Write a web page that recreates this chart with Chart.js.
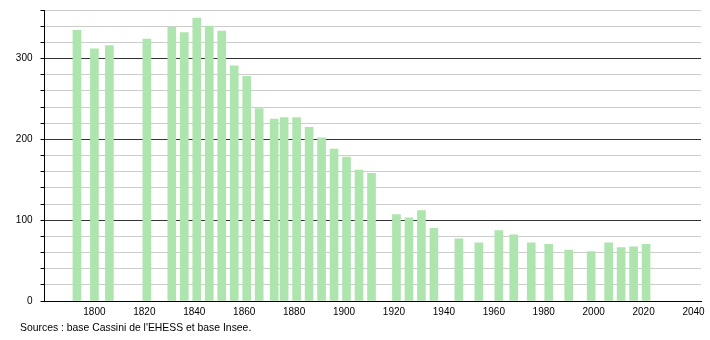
<!DOCTYPE html>
<html>
<head>
<meta charset="utf-8">
<script src="https://cdn.jsdelivr.net/npm/chart.js@4/dist/chart.umd.min.js"></script>
<style>
  body { margin: 0; background: #fff; }
  #wrap { position: relative; width: 710px; height: 340px; }
  #sources { position: absolute; left: 20px; top: 322px; font: 10.4px "Liberation Sans", Arial, sans-serif; color: #000; }
</style>
</head>
<body>
<div id="wrap">
  <canvas id="pop_chart" width="710" height="340"></canvas>
  <div id="sources">Sources : base Cassini de l'EHESS et base Insee.</div>
</div>
<script>
// 인구 데이터 (연도, 인구)
var years = [1793, 1800, 1806, 1821, 1831, 1836, 1841, 1846, 1851, 1856, 1861, 1866, 1872, 1876, 1881, 1886, 1891, 1896, 1901, 1906, 1911,
             1921, 1926, 1931, 1936, 1946, 1954, 1962, 1968, 1975, 1982, 1990, 1999, 2006, 2011, 2016, 2021];
var population = [335, 312, 316, 324, 339, 332, 350, 340, 334, 291, 278, 238, 225, 227, 227, 215, 202, 188, 178, 162, 158,
                  107, 103, 112, 90, 77, 72, 87, 82, 72, 70, 63, 61, 72, 66, 67, 70];
var xTickYears = [1800, 1820, 1840, 1860, 1880, 1900, 1920, 1940, 1960, 1980, 2000, 2020, 2040];

var points = years.map(function (y, i) { return { x: y, y: population[i] }; });

new Chart(document.getElementById("pop_chart"), {
    type: 'bar',
    data: {
        datasets: [{
            data: points,
            backgroundColor: "rgb(174, 228, 174)",
            borderWidth: 0,
            barThickness: 8
        }]
    },
    options: {
        responsive: false,
        animation: false,
        layout: { padding: { top: 10, right: 9, bottom: 19, left: 0 } },
        plugins: { legend: { display: false }, tooltip: { enabled: false } },
        scales: {
            x: {
                type: 'linear',
                offset: false,
                min: 1780,
                max: 2043,
                afterBuildTicks: function (scale) {
                    scale.ticks = xTickYears.map(function (v) { return { value: v }; });
                },
                afterFit: function (scale) { scale.height = 20; },
                grid: { display: false, drawTicks: false, offset: false },
                border: { display: true, color: '#000', width: 1 },
                ticks: {
                    padding: 5,
                    maxRotation: 0,
                    autoSkip: false,
                    color: '#000',
                    font: { family: 'Liberation Sans', size: 10 },
                    callback: function (v) { return String(v); }
                }
            },
            y: {
                min: 0,
                max: 360,
                afterFit: function (scale) {
                    scale.width = 44.5;
                    // 위아래 라벨 여백 없애기
                    scale.paddingTop = 0;
                    scale.paddingBottom = 0;
                },
                grid: {
                    color: function (ctx) {
                        if (ctx.tick.value === 0) return 'rgba(0,0,0,0)';
                        return ctx.tick.value % 100 === 0 ? '#333' : '#ccc';
                    },
                    tickColor: '#000',
                    tickLength: 4
                },
                border: { display: true, color: '#000', width: 1 },
                ticks: {
                    stepSize: 20,
                    padding: 8,
                    color: '#000',
                    font: { family: 'Liberation Sans', size: 10 },
                    callback: function (v) { return v % 100 === 0 ? String(v) : ''; }
                }
            }
        }
    }
});
</script>
</body>
</html>
